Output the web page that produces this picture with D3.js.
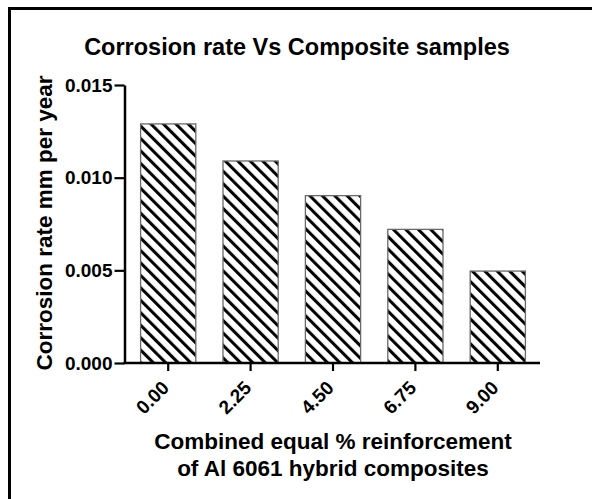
<!DOCTYPE html>
<html>
<head>
<meta charset="utf-8">
<script src="https://cdn.jsdelivr.net/npm/d3@7"></script>
<style>
  html, body { margin: 0; padding: 0; background: #fff; }
  svg { display: block; }
  text { font-family: "Liberation Sans", Arial, Helvetica, sans-serif; font-weight: bold; fill: #000; }
</style>
</head>
<body>
<svg id="chart" width="592" height="499"></svg>
<script>
const categories = ["0.00", "2.25", "4.50", "6.75", "9.00"];
const values = [0.0129, 0.0109, 0.00903, 0.00721, 0.00496];
const yTicks = [0, 0.005, 0.010, 0.015];
const title = "Corrosion rate Vs Composite samples";
const yLabel = "Corrosion rate mm per year";
const xLabelLines = ["Combined equal % reinforcement", "of Al 6061 hybrid composites"];

const svg = d3.select("#chart");

// outer frame (extends past right/bottom edges)
svg.append("rect")
  .attr("x", 9.5).attr("y", 8.5)
  .attr("width", 700).attr("height", 700)
  .attr("fill", "none").attr("stroke", "#000").attr("stroke-width", 3);

// hatch pattern
const defs = svg.append("defs");
const pat = defs.append("pattern")
  .attr("id", "hatch")
  .attr("patternUnits", "userSpaceOnUse")
  .attr("width", 8.8).attr("height", 8.8)
  .attr("patternTransform", "rotate(-45)");
pat.append("rect").attr("width", 8.8).attr("height", 8.8).attr("fill", "#fff");
pat.append("line")
  .attr("x1", 1.5).attr("y1", -1).attr("x2", 1.5).attr("y2", 10)
  .attr("stroke", "#000").attr("stroke-width", 3.1);

const x = d3.scaleBand()
  .domain(categories)
  .range([127, 539])
  .paddingInner(0.33)
  .paddingOuter(0.165);

const y = d3.scaleLinear().domain([0, 0.015]).range([363, 85]);

// bars
svg.append("g").selectAll("rect")
  .data(values)
  .join("rect")
  .attr("x", (d, i) => x(categories[i]))
  .attr("y", d => y(d))
  .attr("width", x.bandwidth())
  .attr("height", d => y(0) - y(d))
  .attr("fill", "url(#hatch)")
  .attr("stroke", "#6a6a6a")
  .attr("stroke-width", 1.3);

// y axis
const yAxis = d3.axisLeft(y)
  .tickValues(yTicks)
  .tickFormat(d3.format(".3f"))
  .tickSize(10)
  .tickSizeOuter(0)
  .tickPadding(2);
const gy = svg.append("g").attr("transform", "translate(124.5,0)").call(yAxis);
gy.select(".domain").attr("stroke", "#000").attr("stroke-width", 2.5);
gy.selectAll(".tick line").attr("stroke", "#000").attr("stroke-width", 2.2);
gy.selectAll(".tick text").attr("font-size", 19).attr("font-weight", "bold")
  .attr("font-family", "'Liberation Sans', Arial, sans-serif");

// x axis
const xAxis = d3.axisBottom(x).tickSize(8).tickSizeOuter(0);
const gx = svg.append("g").attr("transform", "translate(0,363)").call(xAxis);
gx.select(".domain").attr("stroke", "#000").attr("stroke-width", 2.5)
  .attr("d", "M123.5,0H540");
gx.selectAll(".tick line").attr("stroke", "#000").attr("stroke-width", 2.2);
gx.selectAll(".tick text")
  .attr("font-size", 19).attr("font-weight", "bold")
  .attr("font-family", "'Liberation Sans', Arial, sans-serif")
  .attr("text-anchor", "end")
  .attr("dy", null).attr("y", null)
  .attr("transform", "translate(2,26) rotate(-45)");

// title
svg.append("text")
  .attr("x", 297).attr("y", 55)
  .attr("text-anchor", "middle")
  .attr("font-size", 23.5)
  .text(title);

// y label
svg.append("text")
  .attr("transform", "translate(52,223) rotate(-90)")
  .attr("text-anchor", "middle")
  .attr("font-size", 22.5)
  .text(yLabel);

// x label
svg.append("text")
  .attr("text-anchor", "middle")
  .attr("font-size", 22.5)
  .selectAll("tspan")
  .data(xLabelLines)
  .join("tspan")
  .attr("x", 333)
  .attr("y", (d, i) => 449 + i * 27)
  .text(d => d);
</script>
</body>
</html>
